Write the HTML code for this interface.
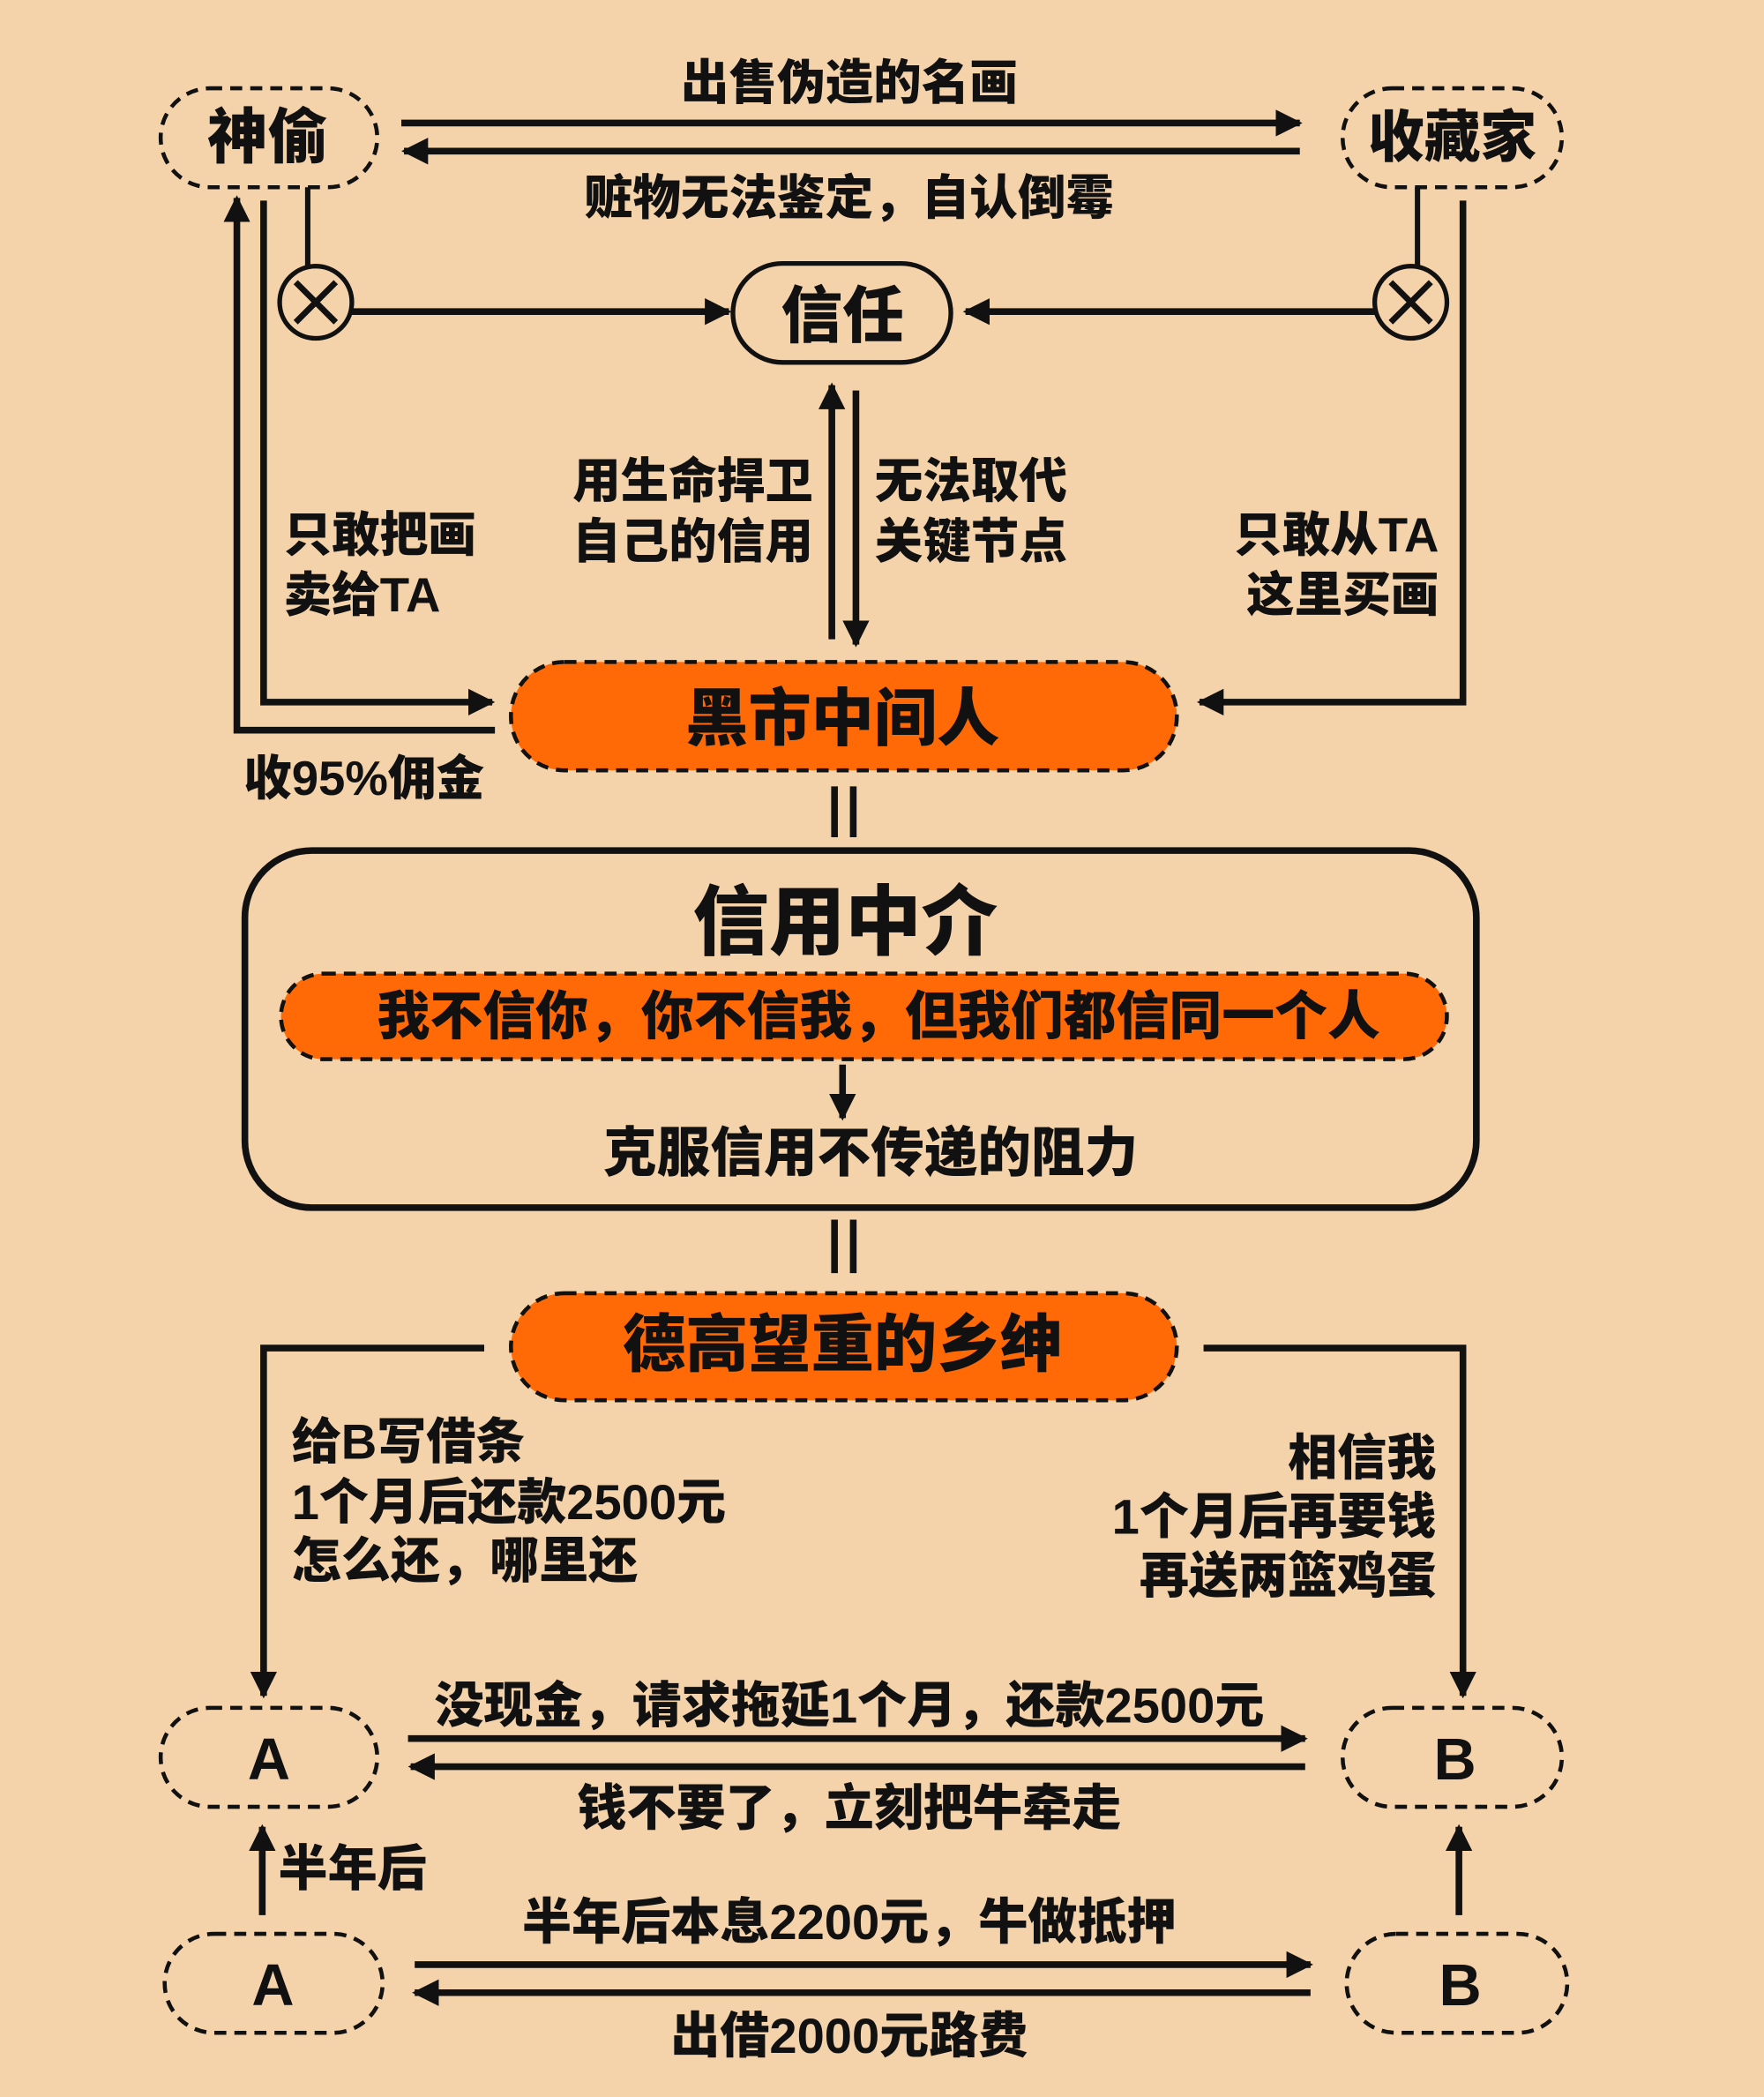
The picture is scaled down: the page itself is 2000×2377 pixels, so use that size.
<!DOCTYPE html>
<html><head><meta charset="utf-8"><style>
html,body{margin:0;padding:0;background:#f4d3ab;}
svg{display:block}
text{font-family:"Liberation Sans","Noto Sans CJK SC",sans-serif;font-weight:900;fill:#111;dominant-baseline:central}
</style></head><body>
<svg width="2000" height="2377" viewBox="0 0 1319 1568" xmlns="http://www.w3.org/2000/svg">
<defs>
<marker id="a" viewBox="0 0 10 10" refX="9" refY="5" markerWidth="4" markerHeight="4" orient="auto" markerUnits="strokeWidth"><path d="M0,0 L10,5 L0,10 z" fill="#111"/></marker>
</defs>
<rect width="1319" height="1568" fill="#f4d3ab"/>
<g fill="none" stroke="#111" stroke-width="5">
<rect x="120" y="66" width="162" height="74" rx="37" stroke-dasharray="9,6" stroke-width="3"/>
<rect x="1004" y="66" width="164" height="74" rx="37" stroke-dasharray="9,6" stroke-width="3"/>
<line x1="300" y1="92" x2="972" y2="92" marker-end="url(#a)"/>
<line x1="972" y1="113" x2="302" y2="113" marker-end="url(#a)"/>
<line x1="230" y1="140" x2="230" y2="199" stroke-width="4"/>
<line x1="1060" y1="140" x2="1060" y2="199" stroke-width="4"/>
<circle cx="236" cy="226" r="27" stroke-width="3.5"/>
<line x1="221" y1="211" x2="251" y2="241" stroke-width="4.5"/><line x1="251" y1="211" x2="221" y2="241" stroke-width="4.5"/>
<circle cx="1055" cy="226" r="27" stroke-width="3.5"/>
<line x1="1040" y1="211" x2="1070" y2="241" stroke-width="4.5"/><line x1="1070" y1="211" x2="1040" y2="241" stroke-width="4.5"/>
<line x1="263" y1="233" x2="545" y2="233" marker-end="url(#a)"/>
<line x1="1028" y1="233" x2="722" y2="233" marker-end="url(#a)"/>
<rect x="548" y="197" width="163" height="74" rx="37" stroke-width="3.5"/>
<line x1="622" y1="478" x2="622" y2="288" marker-end="url(#a)"/>
<line x1="640" y1="292" x2="640" y2="482" marker-end="url(#a)"/>
<polyline points="370,546 177,546 177,148" marker-end="url(#a)"/>
<polyline points="197,150 197,525 368,525" marker-end="url(#a)"/>
<polyline points="1094,150 1094,525 897,525" marker-end="url(#a)"/>
<rect x="382" y="495" width="498" height="81" rx="40" fill="#ff6a06" stroke-dasharray="9,6" stroke-width="3"/>
<line x1="624" y1="588" x2="624" y2="626"/><line x1="638" y1="588" x2="638" y2="626"/>
<rect x="183" y="636" width="921" height="267" rx="50" stroke-width="5"/>
<rect x="210" y="728" width="872" height="64" rx="32" fill="#ff6a06" stroke-dasharray="9,6" stroke-width="3"/>
<line x1="630" y1="796" x2="630" y2="836" marker-end="url(#a)"/>
<line x1="624" y1="912" x2="624" y2="952"/><line x1="638" y1="912" x2="638" y2="952"/>
<rect x="382" y="967" width="498" height="80" rx="40" fill="#ff6a06" stroke-dasharray="9,6" stroke-width="3"/>
<polyline points="362,1008 197,1008 197,1268" marker-end="url(#a)"/>
<polyline points="900,1008 1094,1008 1094,1268" marker-end="url(#a)"/>
<rect x="120" y="1277" width="162" height="74" rx="37" stroke-dasharray="9,6" stroke-width="3"/>
<rect x="1004" y="1277" width="164" height="74" rx="37" stroke-dasharray="9,6" stroke-width="3"/>
<line x1="305" y1="1300" x2="976" y2="1300" marker-end="url(#a)"/>
<line x1="976" y1="1321" x2="307" y2="1321" marker-end="url(#a)"/>
<line x1="196" y1="1432" x2="196" y2="1366" marker-end="url(#a)"/>
<line x1="1091" y1="1432" x2="1091" y2="1366" marker-end="url(#a)"/>
<rect x="123" y="1446" width="163" height="74" rx="37" stroke-dasharray="9,6" stroke-width="3"/>
<rect x="1007" y="1446" width="165" height="74" rx="37" stroke-dasharray="9,6" stroke-width="3"/>
<line x1="310" y1="1469" x2="980" y2="1469" marker-end="url(#a)"/>
<line x1="980" y1="1490" x2="310" y2="1490" marker-end="url(#a)"/>
</g>
<g font-size="37">
<text x="200" y="103" font-size="45" text-anchor="middle">神偷</text>
<text x="1086" y="103" font-size="42" text-anchor="middle">收藏家</text>
<text x="635" y="62" font-size="36" text-anchor="middle">出售伪造的名画</text>
<text x="635" y="148" font-size="36" text-anchor="middle">赃物无法鉴定，自认倒霉</text>
<text x="630" y="236" font-size="46" text-anchor="middle">信任</text>
<text x="608" y="360" font-size="36" text-anchor="end">用生命捍卫</text>
<text x="608" y="405" font-size="36" text-anchor="end">自己的信用</text>
<text x="654" y="360" font-size="36">无法取代</text>
<text x="654" y="405" font-size="36">关键节点</text>
<text x="212" y="400" font-size="36">只敢把画</text>
<text x="212" y="445" font-size="36">卖给TA</text>
<text x="1076" y="400" font-size="36" text-anchor="end">只敢从TA</text>
<text x="1076" y="445" font-size="36" text-anchor="end">这里买画</text>
<text x="182" y="582" font-size="36">收95%佣金</text>
<text x="630" y="538" font-size="47" text-anchor="middle">黑市中间人</text>
<text x="632" y="690" font-size="57" text-anchor="middle">信用中介</text>
<text x="657" y="760" font-size="39.5" text-anchor="middle">我不信你，你不信我，但我们都信同一个人</text>
<text x="651" y="862" font-size="40" text-anchor="middle">克服信用不传递的阻力</text>
<text x="630" y="1006" font-size="47" text-anchor="middle">德高望重的乡绅</text>
<text x="218" y="1078">给B写借条</text>
<text x="218" y="1123">1个月后还款2500元</text>
<text x="218" y="1167">怎么还，哪里还</text>
<text x="1074" y="1090" text-anchor="end">相信我</text>
<text x="1074" y="1134" text-anchor="end">1个月后再要钱</text>
<text x="1074" y="1178" text-anchor="end">再送两篮鸡蛋</text>
<text x="201" y="1316" font-size="44" text-anchor="middle">A</text>
<text x="1088" y="1316" font-size="44" text-anchor="middle">B</text>
<text x="635" y="1275" text-anchor="middle">没现金，请求拖延1个月，还款2500元</text>
<text x="635" y="1352" text-anchor="middle">钱不要了，立刻把牛牵走</text>
<text x="208" y="1397">半年后</text>
<text x="204" y="1485" font-size="44" text-anchor="middle">A</text>
<text x="1092" y="1485" font-size="44" text-anchor="middle">B</text>
<text x="635" y="1437" text-anchor="middle">半年后本息2200元，牛做抵押</text>
<text x="635" y="1522" text-anchor="middle">出借2000元路费</text>
</g>
</svg>
</body></html>
